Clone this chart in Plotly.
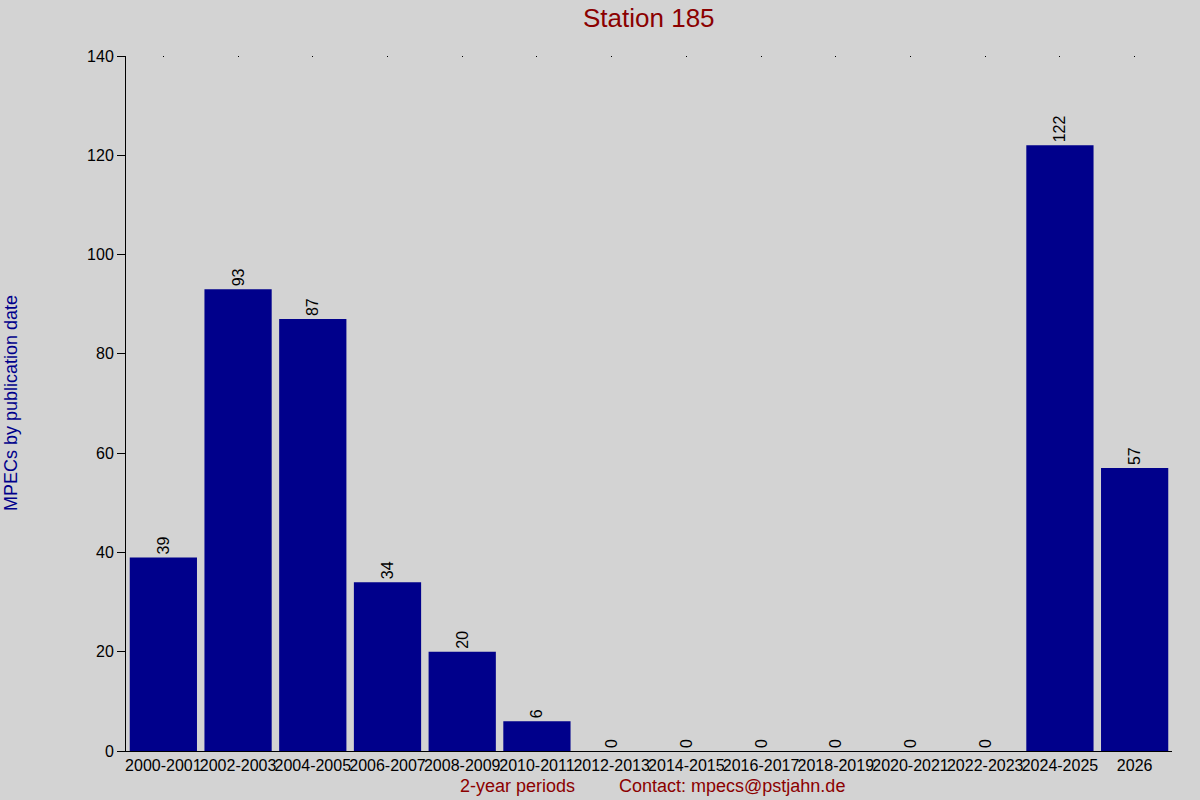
import plotly.graph_objects as go

periods = ["2000-2001", "2002-2003", "2004-2005", "2006-2007", "2008-2009",
           "2010-2011", "2012-2013", "2014-2015", "2016-2017", "2018-2019",
           "2020-2021", "2022-2023", "2024-2025", "2026"]
mpecs = [39, 93, 87, 34, 20, 6, 0, 0, 0, 0, 0, 0, 122, 57]
y_ticks = [0, 20, 40, 60, 80, 100, 120, 140]

FONT = "Liberation Sans, Arial, sans-serif"
BG = "#d3d3d3"
RED = "#8b0000"
NAVY = "#00008b"

W, H = 1200, 800
L, T = 126, 56
PW, PH = 1046, 695
R, B = W - L - PW, H - T - PH


def px(x):
    return (x - L) / PW


def py(y):
    return (T + PH - y) / PH


fig = go.Figure()
fig.add_trace(go.Bar(
    x=periods, y=mpecs,
    marker=dict(color=NAVY, line=dict(width=0)),
    text=[str(v) for v in mpecs], textposition="outside", textangle=-90,
    textfont=dict(family=FONT, size=16, color="black"),
    cliponaxis=False, showlegend=False, hoverinfo="x+y",
))
# invisible trace to carry the dotted top ticks
fig.add_trace(go.Scatter(x=periods, y=mpecs, xaxis="x2", mode="markers",
                         marker=dict(opacity=0), showlegend=False, hoverinfo="skip"))

xr = [-0.5, len(periods) - 0.5]
fig.update_layout(
    width=W, height=H,
    paper_bgcolor=BG, plot_bgcolor=BG,
    margin=dict(l=L, r=R, t=T, b=B, pad=0),
    bargap=0.1,
    font=dict(family=FONT, size=16, color="black"),
    xaxis=dict(range=xr, showline=True, linecolor="black", linewidth=1, ticks="",
               showgrid=False, zeroline=False, tickangle=0,
               tickfont=dict(family=FONT, size=16, color="black")),
    xaxis2=dict(range=xr, overlaying="x", side="top", showline=False,
                ticks="inside", ticklen=1, tickwidth=1, tickcolor="black",
                showticklabels=False, showgrid=False, zeroline=False),
    yaxis=dict(range=[0, 140], tickvals=y_ticks, showline=True, linecolor="black",
               linewidth=1, ticks="outside", ticklen=8, tickcolor="black",
               showgrid=False, zeroline=False,
               tickfont=dict(family=FONT, size=16, color="black")),
)

notes = [
    ("Station 185", 649, 18, 26, RED, 0),
    ("MPECs by publication date", 11, 403, 18, NAVY, -90),
    ("2-year periods", 517, 786, 18, RED, 0),
    ("Contact: mpecs@pstjahn.de", 732, 786, 18, RED, 0),
]
for text, x, y, size, color, ang in notes:
    fig.add_annotation(text=text, x=px(x), y=py(y), xref="paper", yref="paper",
                       xanchor="center", yanchor="middle", textangle=ang,
                       showarrow=False, font=dict(family=FONT, size=size, color=color))

fig.write_html("out.html", config={"displayModeBar": False},
               post_script="document.body.style.margin='0';")
